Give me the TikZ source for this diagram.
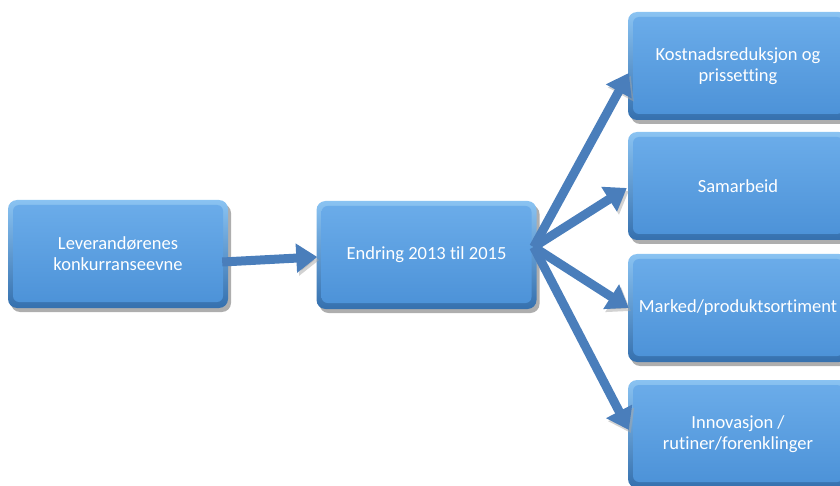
\documentclass[tikz,border=0pt]{standalone}
\usepackage{fontspec}
\setmainfont{Carlito}[Ligatures=NoCommon]
\usetikzlibrary{shadows,arrows.meta}

\definecolor{faceTop}{HTML}{6CADEA}
\definecolor{faceBot}{HTML}{4B91D7}
\definecolor{rimTop}{HTML}{8AC3F2}
\definecolor{rimBot}{HTML}{3570AE}
\definecolor{arrowBlue}{HTML}{4A7EBB}

\tikzset{
  bevelbox/.style={
    rectangle, rounded corners=9pt,
    minimum width=220pt, minimum height=108pt,
    top color=rimTop, bottom color=rimBot,
    text=white, align=center,
    font=\fontsize{18.5}{21}\selectfont,
    drop shadow={shadow xshift=3pt, shadow yshift=-4pt, opacity=0.45, fill=black!70},
    path picture={
      \shade[top color=faceTop, bottom color=faceBot, rounded corners=6pt]
        ([shift={(5pt,-5pt)}]path picture bounding box.north west)
        rectangle ([shift={(-5pt,6pt)}]path picture bounding box.south east);
    }
  },
  flowarrow/.style={
    draw=arrowBlue, line width=9pt,
    -{Triangle[width=28pt,length=21pt]},
    preaction={draw=black!35, opacity=0.5, transform canvas={shift={(2pt,-3pt)}}}
  }
}

\begin{document}
\begin{tikzpicture}[x=1pt,y=-1pt]
  \useasboundingbox (0,0) rectangle (840,486);

  \node[bevelbox] (src) at (118,254) {Leverandørenes\\konkurranseevne};
  \node[bevelbox] (mid) at (426.5,255) {Endring 2013 til 2015};

  \node[bevelbox] (r1) at (738,66)  {Kostnadsreduksjon og\\prissetting};
  \node[bevelbox] (r2) at (738,186) {Samarbeid};
  \node[bevelbox] (r3) at (738,308) {Marked/produktsortiment};
  \node[bevelbox] (r4) at (738,434) {Innovasjon /\\rutiner/forenklinger};

  \draw[flowarrow] ([xshift=-6pt,yshift=-8pt]src.east) -- ([xshift=1pt,yshift=-2pt]mid.west);

  \draw[flowarrow] ([xshift=-3pt,yshift=8pt]mid.east) -- ([xshift=1pt,yshift=-7pt]r1.west);
  \draw[flowarrow] ([xshift=-3pt,yshift=8pt]mid.east) -- ([xshift=-1pt,yshift=-2pt]r2.west);
  \draw[flowarrow] ([xshift=-3pt,yshift=8pt]mid.east) -- ([xshift=1pt]r3.west);
  \draw[flowarrow] ([xshift=-3pt,yshift=8pt]mid.east) -- ([xshift=1pt,yshift=4pt]r4.west);
\end{tikzpicture}
\end{document}
